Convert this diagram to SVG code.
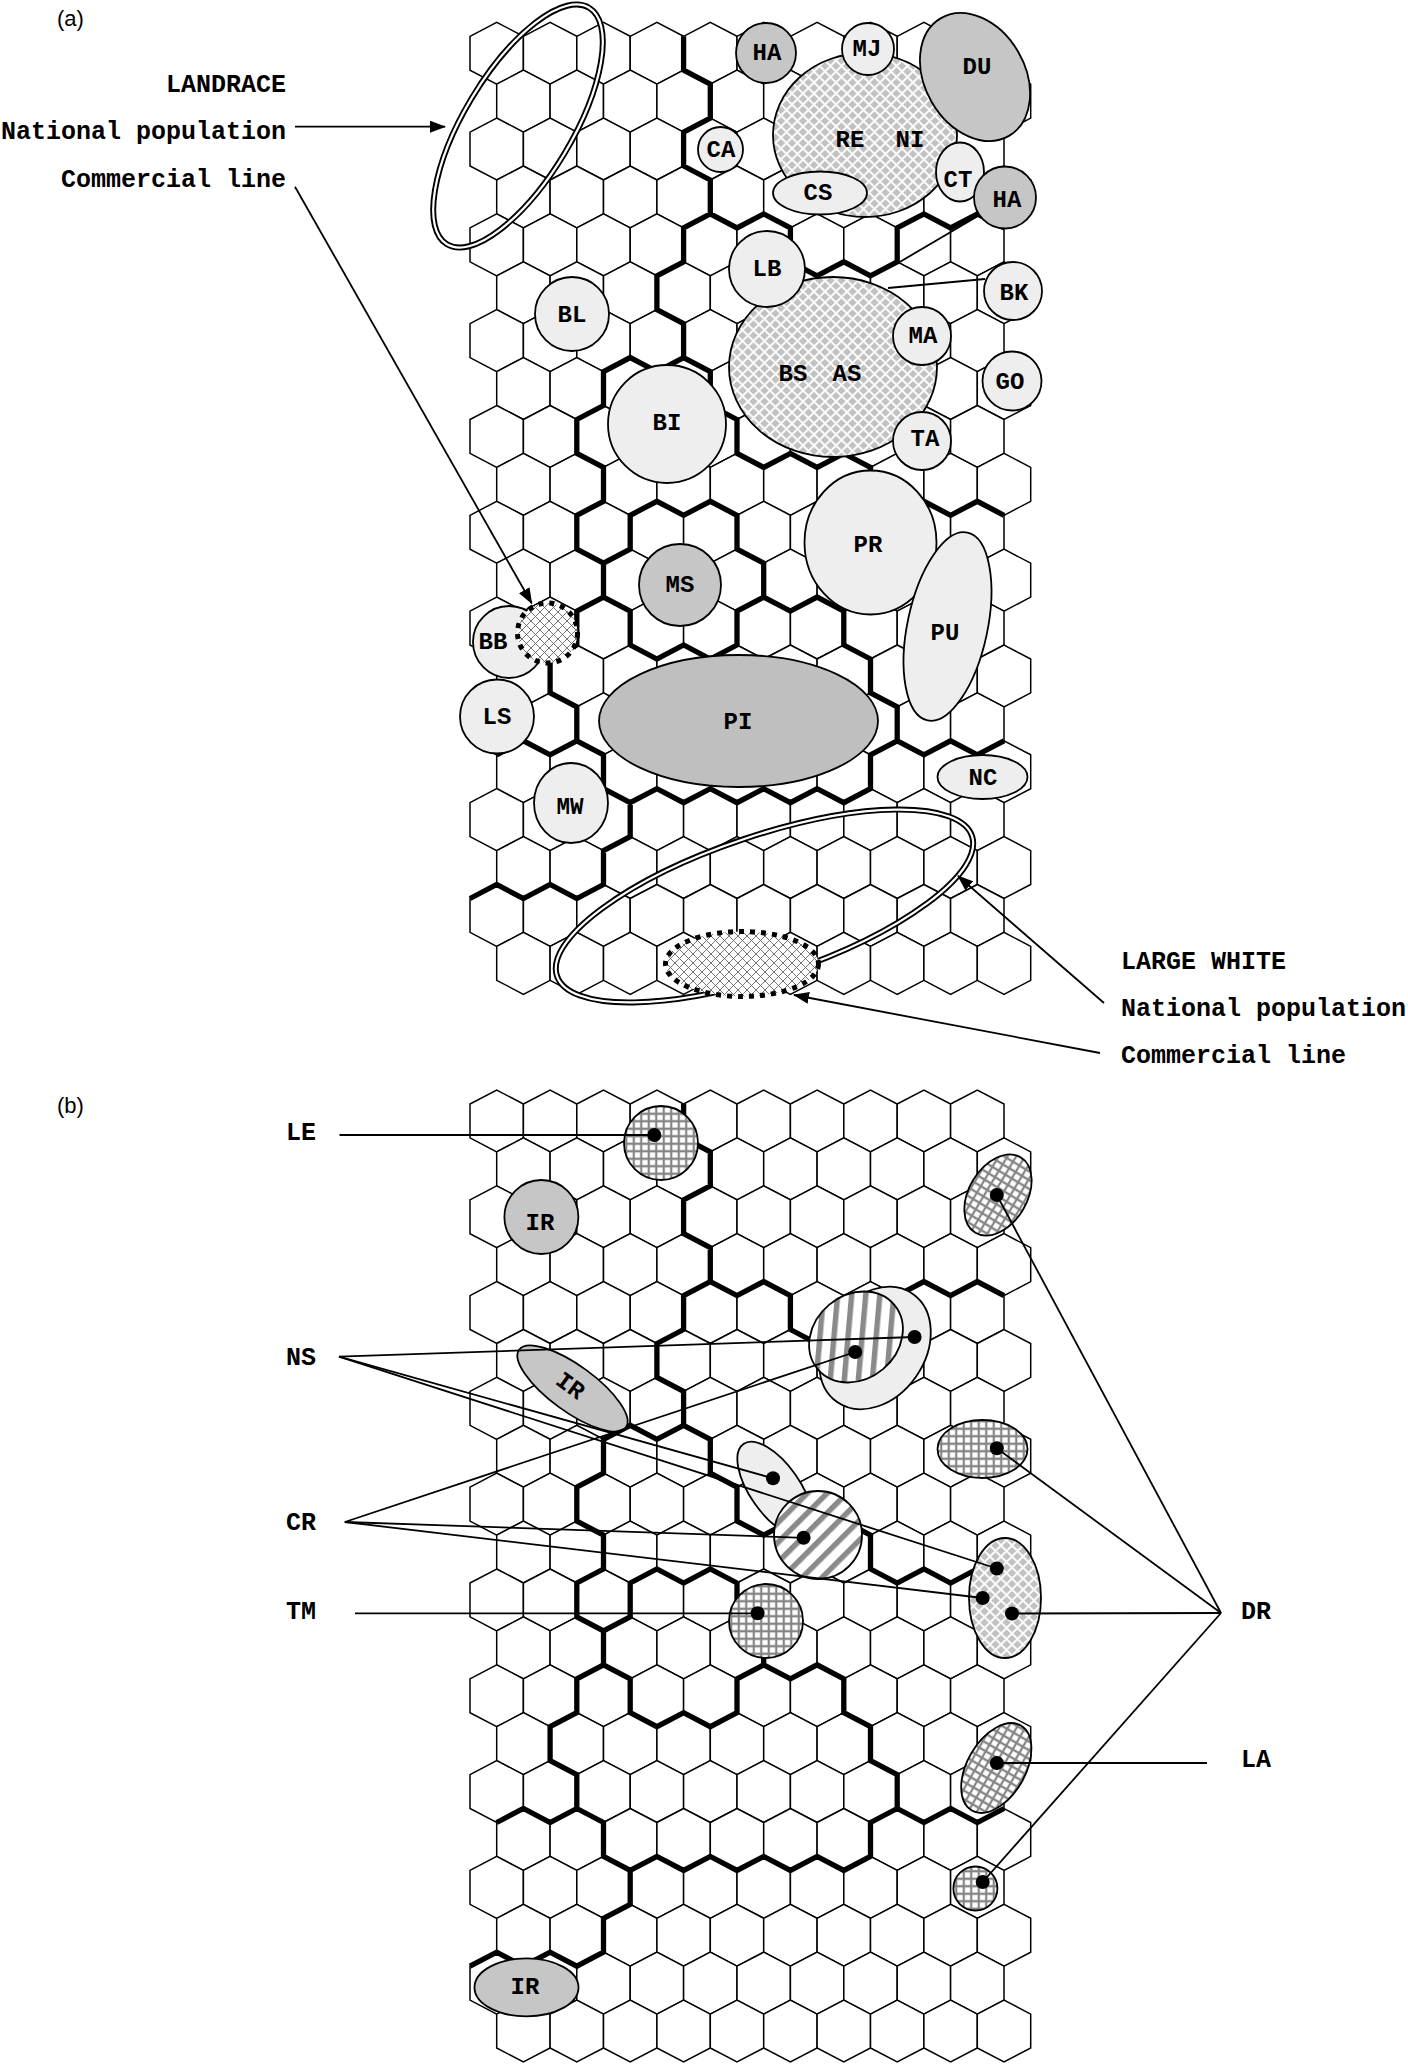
<svg xmlns="http://www.w3.org/2000/svg" xmlns:xlink="http://www.w3.org/1999/xlink" width="1408" height="2064" viewBox="0 0 1408 2064">
<style>
.hex{fill:#fff;stroke:#000;stroke-width:1.5}
.brd{fill:none;stroke:#000;stroke-width:5.3;stroke-linejoin:miter}
.n{stroke:#000;stroke-width:1.8}
.lt{fill:#eeeeee}
.dk{fill:#c6c6c6}
.t{font-family:"Liberation Mono","Courier New",monospace;font-weight:bold;font-size:24px;text-anchor:middle;fill:#000}
.lb{font-family:"Liberation Mono","Courier New",monospace;font-weight:bold;font-size:25px;fill:#000}
.ln{fill:none;stroke:#000;stroke-width:1.8}
.pl{font-family:"Liberation Sans",Arial,sans-serif;font-size:22px;fill:#000}
</style>
<defs>
<pattern id="chk" width="11" height="11" patternUnits="userSpaceOnUse">
<rect width="11" height="11" fill="#fafafa"/>
<path d="M5.5,1.4 9.6,5.5 5.5,9.6 1.4,5.5Z M0,-4.1 4.1,0 0,4.1 -4.1,0Z M11,-4.1 15.1,0 11,4.1 6.9,0Z M0,6.9 4.1,11 0,15.1 -4.1,11Z M11,6.9 15.1,11 11,15.1 6.9,11Z" fill="#c2c2c2"/>
</pattern>
<pattern id="xh" width="9" height="9" patternUnits="userSpaceOnUse">
<rect width="9" height="9" fill="#fff"/>
<path d="M-1,-1 10,10 M10,-1 -1,10" stroke="#666" stroke-width="0.9"/>
</pattern>
<pattern id="gh" width="7.5" height="7.5" patternUnits="userSpaceOnUse">
<rect width="7.5" height="7.5" fill="#fff"/>
<path d="M3.75,0V7.5M0,3.75H7.5" stroke="#858585" stroke-width="2.2"/>
</pattern>
<pattern id="st" width="14" height="14" patternUnits="userSpaceOnUse" patternTransform="rotate(45)">
<rect width="14" height="14" fill="#fff"/>
<rect width="5.5" height="14" fill="#8a8a8a"/>
</pattern>
<marker id="ah" viewBox="0 0 16 12" markerWidth="16" markerHeight="12" refX="15" refY="6" orient="auto" markerUnits="userSpaceOnUse">
<path d="M0,0L16,6L0,12Z" fill="#000"/>
</marker>
<path id="hx" d="M0,14 26.7,0 53.4,14V47.9L26.7,61.9 0,47.9Z"/>
<g id="hr"><use xlink:href="#hx"/><use xlink:href="#hx" x="53.4"/><use xlink:href="#hx" x="106.8"/><use xlink:href="#hx" x="160.2"/><use xlink:href="#hx" x="213.6"/><use xlink:href="#hx" x="267"/><use xlink:href="#hx" x="320.4"/><use xlink:href="#hx" x="373.8"/><use xlink:href="#hx" x="427.2"/><use xlink:href="#hx" x="480.6"/></g>
<g id="grid">
<use xlink:href="#hr" y="0"/><use xlink:href="#hr" x="26.7" y="47.9"/>
<use xlink:href="#hr" y="95.8"/><use xlink:href="#hr" x="26.7" y="143.7"/>
<use xlink:href="#hr" y="191.6"/><use xlink:href="#hr" x="26.7" y="239.5"/>
<use xlink:href="#hr" y="287.4"/><use xlink:href="#hr" x="26.7" y="335.3"/>
<use xlink:href="#hr" y="383.2"/><use xlink:href="#hr" x="26.7" y="431.1"/>
<use xlink:href="#hr" y="479"/><use xlink:href="#hr" x="26.7" y="526.9"/>
<use xlink:href="#hr" y="574.8"/><use xlink:href="#hr" x="26.7" y="622.7"/>
<use xlink:href="#hr" y="670.6"/><use xlink:href="#hr" x="26.7" y="718.5"/>
<use xlink:href="#hr" y="766.4"/><use xlink:href="#hr" x="26.7" y="814.3"/>
<use xlink:href="#hr" y="862.2"/><use xlink:href="#hr" x="26.7" y="910.1"/>
</g>
<path id="brd" d="M683.6,36.3 L683.6,70.2 710.3,84.2 710.3,118.1 683.6,132.1 683.6,166 710.3,180 710.3,213.9 683.6,227.9 683.6,261.8 656.9,275.8 656.9,309.7 683.6,323.7 683.6,357.6 710.3,371.6 710.3,405.5 737,419.5 737,453.4 763.7,467.4 790.4,453.4 817.1,467.4 843.8,453.4 870.5,467.4 870.5,501.3 897.2,515.3 923.9,501.3 950.6,515.3 977.3,501.3 1004,515.3
M710.3,213.9 L737,227.9 763.7,213.9 790.4,227.9 790.4,261.8 817.1,275.8 843.8,261.8 870.5,275.8 897.2,261.8 897.2,227.9 923.9,213.9 950.6,227.9 977.3,213.9 1004,227.9
M683.6,357.6 L656.9,371.6 630.2,357.6 603.5,371.6 603.5,405.5 576.8,419.5 576.8,453.4 603.5,467.4 603.5,501.3 576.8,515.3 576.8,549.2 603.5,563.2 603.5,597.1 576.8,611.1 576.8,645 550.1,659 550.1,692.9 576.8,706.9 576.8,740.8 603.5,754.8 603.5,788.7 630.2,802.7 630.2,836.6 603.5,850.6 603.5,884.5 576.8,898.5 550.1,884.5 523.4,898.5 496.7,884.5 470,898.5
M576.8,740.8 L550.1,754.8 523.4,740.8 496.7,754.8
M603.5,563.2 L630.2,549.2 630.2,515.3 656.9,501.3 683.6,515.3 710.3,501.3 737,515.3 737,549.2 763.7,563.2 763.7,597.1 790.4,611.1 817.1,597.1 843.8,611.1 843.8,645 870.5,659 870.5,692.9 897.2,706.9 897.2,740.8 923.9,754.8 950.6,740.8 977.3,754.8 1004,740.8
M603.5,597.1 L630.2,611.1 630.2,645 656.9,659 683.6,645 710.3,659 737,645 737,611.1 763.7,597.1
M630.2,802.7 L656.9,788.7 683.6,802.7 710.3,788.7 737,802.7 763.7,788.7 790.4,802.7 817.1,788.7 843.8,802.7 870.5,788.7 870.5,754.8 897.2,740.8"/>
</defs>

<rect width="1408" height="2064" fill="#fff"/>

<!-- panel a -->
<g id="grid-a" class="hex"><use xlink:href="#grid" x="470" y="22.3"/></g>
<g id="borders-a" class="brd"><use xlink:href="#brd"/></g>

<g id="n-RENI"><ellipse class="n" cx="865" cy="135" rx="92" ry="82" fill="url(#chk)"/><text class="t" x="850" y="147">RE</text><text class="t" x="910" y="147">NI</text></g>
<g id="n-MJ"><circle class="n lt" cx="868" cy="49" r="26"/><text class="t" x="867" y="56">MJ</text></g>
<g id="n-HA1"><circle class="n dk" cx="766" cy="53" r="30"/><text class="t" x="767" y="60">HA</text></g>
<g id="n-DU"><ellipse class="n dk" cx="975" cy="77" rx="68" ry="50" transform="rotate(60 975 77)"/><text class="t" x="977" y="74">DU</text></g>
<g id="n-CA"><circle class="n lt" cx="720.5" cy="149.5" r="22.5"/><text class="t" x="721" y="157">CA</text></g>
<g id="n-CS"><ellipse class="n lt" cx="820" cy="193" rx="47" ry="21.5"/><text class="t" x="818" y="200">CS</text></g>
<g id="n-CT"><ellipse class="n lt" cx="960" cy="172" rx="24" ry="29.5"/><text class="t" x="958" y="187">CT</text></g>
<g id="n-HA2"><circle class="n dk" cx="1005" cy="197.5" r="31"/><text class="t" x="1007" y="207">HA</text></g>
<g id="n-BSAS"><ellipse class="n" cx="833" cy="367" rx="104" ry="90" fill="url(#chk)"/><text class="t" x="793" y="381">BS</text><text class="t" x="847" y="381">AS</text></g>
<g id="n-LB"><circle class="n lt" cx="767" cy="269" r="38"/><text class="t" x="767" y="276">LB</text></g>
<g id="n-BK"><circle class="n lt" cx="1013" cy="291" r="29"/><text class="t" x="1014" y="300">BK</text></g>
<g id="n-MA"><circle class="n lt" cx="922" cy="336" r="29"/><text class="t" x="923" y="343">MA</text></g>
<g id="n-GO"><circle class="n lt" cx="1012" cy="381" r="29.5"/><text class="t" x="1010" y="389">GO</text></g>
<g id="n-TA"><circle class="n lt" cx="922" cy="441" r="29"/><text class="t" x="925" y="446">TA</text></g>
<g id="n-BL"><circle class="n lt" cx="572" cy="314" r="37"/><text class="t" x="572" y="322">BL</text></g>
<g id="n-BI"><circle class="n lt" cx="667" cy="424" r="59"/><text class="t" x="667" y="430">BI</text></g>
<g id="n-PR"><ellipse class="n lt" cx="870.5" cy="542.5" rx="66" ry="72"/><text class="t" x="868" y="552">PR</text></g>
<g id="n-PU"><ellipse class="n lt" cx="947.5" cy="626.5" rx="40" ry="96" transform="rotate(12 947.5 626.5)"/><text class="t" x="945" y="640">PU</text></g>
<g id="n-MS"><circle class="n dk" cx="680" cy="585" r="41"/><text class="t" x="680" y="592">MS</text></g>
<g id="n-BB"><circle class="n lt" cx="509" cy="642" r="36"/><text class="t" x="493" y="649">BB</text></g>
<g id="n-BBc"><circle cx="547.5" cy="633" r="30" fill="url(#xh)" stroke="#000" stroke-width="5" stroke-dasharray="5 6"/></g>
<g id="n-LS"><circle class="n lt" cx="497" cy="716.5" r="37"/><text class="t" x="497" y="724">LS</text></g>
<g id="n-PI"><ellipse class="n" cx="738.5" cy="721" rx="139.5" ry="66" fill="#bfbfbf"/><text class="t" x="738" y="729">PI</text></g>
<g id="n-MW"><ellipse class="n lt" cx="571" cy="803" rx="37" ry="40"/><text class="t" x="570" y="814" textLength="27" lengthAdjust="spacingAndGlyphs">MW</text></g>
<g id="n-NC"><ellipse class="n lt" cx="982.5" cy="777" rx="45" ry="22"/><text class="t" x="983" y="785">NC</text></g>
<g id="n-LWnat"><ellipse cx="764.5" cy="906" rx="219" ry="70" transform="rotate(-18.65 764.5 906)" fill="none" stroke="#000" stroke-width="6"/><ellipse cx="764.5" cy="906" rx="219" ry="70" transform="rotate(-18.65 764.5 906)" fill="none" stroke="#fff" stroke-width="2.2"/></g>
<g id="n-LWcom"><ellipse cx="742" cy="964" rx="76.5" ry="32.5" fill="url(#xh)" stroke="#000" stroke-width="5" stroke-dasharray="5 6"/></g>
<g id="n-LRnat"><ellipse cx="518" cy="126" rx="138" ry="54" transform="rotate(-59 518 126)" fill="none" stroke="#000" stroke-width="6"/><ellipse cx="518" cy="126" rx="138" ry="54" transform="rotate(-59 518 126)" fill="none" stroke="#fff" stroke-width="2.2"/></g>

<g id="connectors-a" class="ln">
<line x1="295" y1="126.7" x2="445" y2="126.7" marker-end="url(#ah)"/>
<line x1="295" y1="186.7" x2="531.7" y2="603.3" marker-end="url(#ah)"/>
<line x1="1104" y1="1003" x2="958" y2="876" marker-end="url(#ah)"/>
<line x1="1100" y1="1053" x2="794" y2="995" marker-end="url(#ah)"/>
<line x1="978" y1="216" x2="898" y2="263"/>
<line x1="985" y1="279" x2="888" y2="288"/>
</g>

<g id="labels-a">
<text class="pl" x="57" y="26">(a)</text>
<text class="lb" x="286" y="92" text-anchor="end">LANDRACE</text>
<text class="lb" x="286" y="139" text-anchor="end">National population</text>
<text class="lb" x="286" y="187" text-anchor="end">Commercial line</text>
<text class="lb" x="1121" y="969">LARGE WHITE</text>
<text class="lb" x="1121" y="1016">National population</text>
<text class="lb" x="1121" y="1063">Commercial line</text>
</g>

<!-- panel b -->
<g id="grid-b" class="hex"><use xlink:href="#grid" x="470" y="1090"/></g>
<g id="borders-b" class="brd"><use xlink:href="#brd" y="1067.7"/></g>

<g id="n-LE"><circle class="n" cx="661" cy="1143" r="37" fill="url(#gh)"/></g>
<g id="n-IR1"><circle class="n dk" cx="541.4" cy="1217" r="37"/><text class="t" x="540" y="1230">IR</text></g>
<g id="n-DR1"><ellipse class="n" cx="998" cy="1195" rx="29" ry="44" transform="rotate(31 998 1195)" fill="url(#gh)"/></g>
<g id="n-NS1"><ellipse class="n lt" cx="875" cy="1348" rx="50" ry="66" transform="rotate(35 875 1348)"/></g>
<g id="n-CR1"><ellipse class="n" cx="856" cy="1337" rx="50" ry="42" transform="rotate(-40 856 1337)" fill="url(#st)"/></g>
<g id="n-DR2"><ellipse class="n" cx="982.5" cy="1449" rx="45" ry="29" fill="url(#gh)"/></g>
<g id="n-NS2"><ellipse class="n lt" cx="775" cy="1489" rx="25" ry="55" transform="rotate(-35 775 1489)"/></g>
<g id="n-CR2"><circle class="n" cx="818" cy="1535" r="44" fill="url(#st)"/></g>
<g id="n-DR3"><ellipse class="n" cx="1005" cy="1598" rx="36" ry="60" fill="url(#chk)"/></g>
<g id="n-TM"><circle class="n" cx="766" cy="1621" r="37" fill="url(#gh)"/></g>
<g id="n-LA"><ellipse class="n" cx="996.3" cy="1768" rx="29" ry="49" transform="rotate(30 996.3 1768)" fill="url(#gh)"/></g>
<g id="n-DR4"><circle class="n" cx="975.4" cy="1888.5" r="22" fill="url(#gh)"/></g>
<g id="n-IR2"><ellipse class="n dk" cx="572.5" cy="1388.5" rx="66" ry="23" transform="rotate(36 572.5 1388.5)"/><text class="t" x="570" y="1393" transform="rotate(36 570 1386)">IR</text></g>
<g id="n-IR3"><ellipse class="n dk" cx="526.5" cy="1987.4" rx="52" ry="29"/><text class="t" x="525" y="1994">IR</text></g>

<g id="connectors-b" class="ln">
<line x1="339.5" y1="1135" x2="654.3" y2="1135"/>
<line x1="339" y1="1356.7" x2="914.6" y2="1337"/>
<line x1="339" y1="1356.7" x2="773" y2="1478.3"/>
<line x1="339" y1="1356.7" x2="996.8" y2="1568.5"/>
<line x1="344.8" y1="1522" x2="855.2" y2="1352"/>
<line x1="344.8" y1="1522" x2="803.6" y2="1537.8"/>
<line x1="344.8" y1="1522" x2="982.7" y2="1598"/>
<line x1="355" y1="1613.3" x2="757.6" y2="1613.3"/>
<line x1="1221" y1="1613" x2="996.8" y2="1195"/>
<line x1="1221" y1="1613" x2="996.8" y2="1448.3"/>
<line x1="1221" y1="1613" x2="1012" y2="1613.5"/>
<line x1="1221" y1="1613" x2="982.7" y2="1882"/>
<line x1="1207" y1="1763" x2="996.8" y2="1763"/>
</g>
<g id="dots-b" fill="#000">
<circle cx="654.3" cy="1135" r="7"/><circle cx="996.8" cy="1195" r="7"/><circle cx="914.6" cy="1337" r="7"/><circle cx="855.2" cy="1352" r="7"/><circle cx="996.8" cy="1448.3" r="7"/><circle cx="773" cy="1478.3" r="7"/><circle cx="803.6" cy="1537.8" r="7"/><circle cx="996.8" cy="1568.5" r="7"/><circle cx="982.7" cy="1598" r="7"/><circle cx="1012" cy="1613.5" r="7"/><circle cx="757.6" cy="1613.3" r="7"/><circle cx="996.8" cy="1763" r="7"/><circle cx="982.7" cy="1882" r="7"/>
</g>
<g id="labels-b">
<text class="pl" x="57" y="1113">(b)</text>
<text class="lb" x="286" y="1140">LE</text>
<text class="lb" x="286" y="1365">NS</text>
<text class="lb" x="286" y="1530">CR</text>
<text class="lb" x="286" y="1619">TM</text>
<text class="lb" x="1241" y="1619">DR</text>
<text class="lb" x="1241" y="1767">LA</text>
</g>
</svg>
